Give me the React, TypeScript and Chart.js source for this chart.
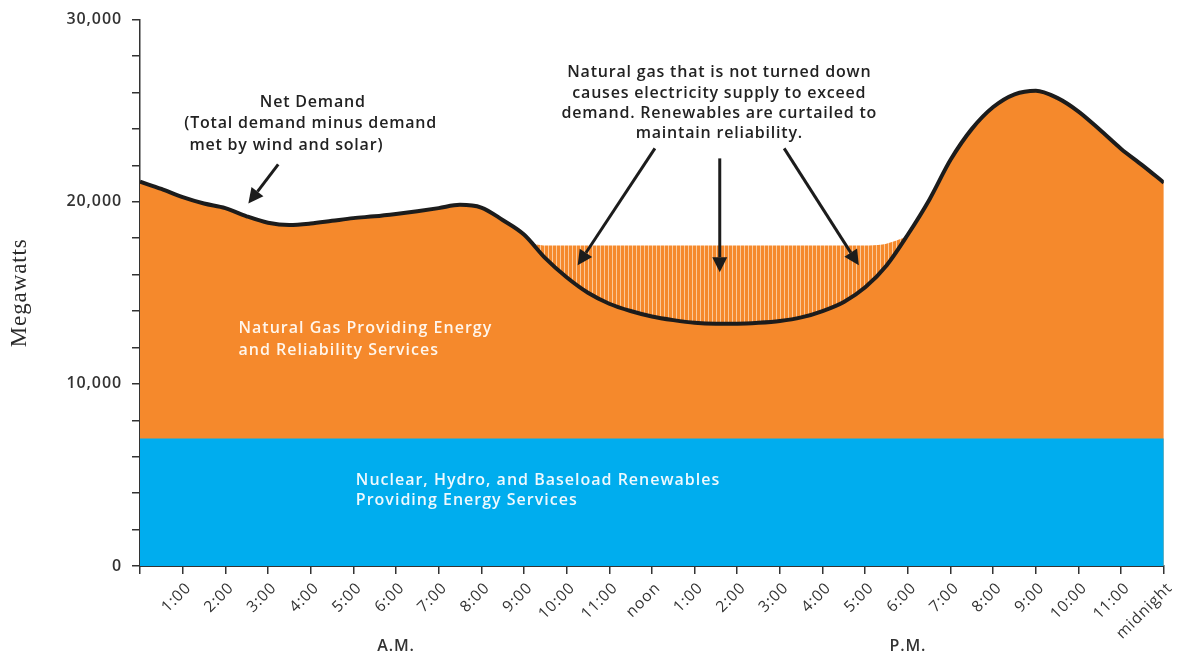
import React, { useEffect, useRef } from 'react';
import { Chart, registerables } from 'chart.js';

Chart.register(...registerables);

// ---------- Data ----------
const demandHours = [
  0, 0.5, 1, 1.5, 2, 2.5, 3, 3.5, 4, 4.5, 5, 5.5, 6, 6.5, 7, 7.5, 8, 8.5, 9, 9.5,
  10, 10.5, 11, 11.5, 12, 12.5, 13, 13.5, 14, 14.5, 15, 15.5, 16, 16.5, 17, 17.5,
  18, 18.5, 19, 19.5, 20, 20.5, 21, 21.5, 22, 22.5, 23, 23.5, 24,
];
const netDemand = [
  21100, 20700, 20250, 19900, 19650, 19200, 18850, 18720, 18800, 18950, 19100, 19200,
  19330, 19480, 19650, 19830, 19680, 19000, 18200, 16900, 15850, 15000, 14400, 14000,
  13700, 13500, 13350, 13300, 13300, 13350, 13450, 13650, 14000, 14500, 15300, 16500,
  18200, 20100, 22300, 24000, 25200, 25900, 26100, 25700, 24950, 23950, 22900, 22000,
  21050,
];
const curtailHours = [9.2, 9.45, 10, 11, 12, 13, 14, 15, 16, 17, 17.4, 17.7, 17.95];
const curtailTop = [17700, 17600, 17600, 17600, 17600, 17600, 17600, 17600, 17600, 17600, 17650, 17850, 18050];
const baseloadHours = [0, 24];
const baseload = [7000, 7000];

const xTickLabels = [
  '', '1:00', '2:00', '3:00', '4:00', '5:00', '6:00', '7:00', '8:00', '9:00', '10:00', '11:00',
  'noon', '1:00', '2:00', '3:00', '4:00', '5:00', '6:00', '7:00', '8:00', '9:00', '10:00', '11:00',
  'midnight',
];
const yLabelledTicks = [0, 10000, 20000, 30000];

const ORANGE = '#F5892C';
const BLUE = '#00ADEE';
const STRIPE = '#FBC99A';
const INK = '#1c1c1c';
const TEXT = '#333333';
const FONT = "'Open Sans', 'Noto Sans', sans-serif";

type Line = { text: string; x: number; y: number };
const netDemandNote: Line[] = [
  { text: 'Net Demand', x: 4.05, y: 25450 },
  { text: '(Total demand minus demand', x: 4.0, y: 24300 },
  { text: 'met by wind and solar)', x: 3.43, y: 23090 },
];
const curtailNote: Line[] = [
  { text: 'Natural gas that is not turned down', x: 13.58, y: 27090 },
  { text: 'causes electricity supply to exceed', x: 13.58, y: 25940 },
  { text: 'demand. Renewables are curtailed to', x: 13.58, y: 24850 },
  { text: 'maintain reliability.', x: 13.58, y: 23750 },
];
const gasNote: Line[] = [
  { text: 'Natural Gas Providing Energy', x: 2.31, y: 13050 },
  { text: 'and Reliability Services', x: 2.31, y: 11850 },
];
const baseNote: Line[] = [
  { text: 'Nuclear, Hydro, and Baseload Renewables', x: 5.06, y: 4720 },
  { text: 'Providing Energy Services', x: 5.06, y: 3620 },
];
const periodNote: Line[] = [
  { text: 'A.M.', x: 6, y: -4390 },
  { text: 'P.M.', x: 18, y: -4390 },
];
const arrows = [
  { x0: 3.24, y0: 22050, x1: 2.54, y1: 19900 },
  { x0: 12.07, y0: 22930, x1: 10.26, y1: 16510 },
  { x0: 13.59, y0: 22380, x1: 13.59, y1: 16130 },
  { x0: 15.1, y0: 22930, x1: 16.85, y1: 16510 },
];

function toPoints(xs: number[], ys: number[]) {
  return xs.map((x, i) => ({ x, y: ys[i] }));
}

function drawArrow(ctx: CanvasRenderingContext2D, x0: number, y0: number, x1: number, y1: number) {
  const ang = Math.atan2(y1 - y0, x1 - x0);
  const headLen = 15;
  const headHalf = 7.5;
  const bx = x1 - headLen * Math.cos(ang);
  const by = y1 - headLen * Math.sin(ang);
  ctx.strokeStyle = INK;
  ctx.fillStyle = INK;
  ctx.lineWidth = 3;
  ctx.lineCap = 'butt';
  ctx.beginPath();
  ctx.moveTo(x0, y0);
  ctx.lineTo(bx, by);
  ctx.stroke();
  ctx.beginPath();
  ctx.moveTo(x1, y1);
  ctx.lineTo(bx + headHalf * Math.sin(ang), by - headHalf * Math.cos(ang));
  ctx.lineTo(bx - headHalf * Math.sin(ang), by + headHalf * Math.cos(ang));
  ctx.closePath();
  ctx.fill();
}

const spacingPlugin = {
  id: 'letterSpacing',
  beforeInit(chart: any) { (chart.ctx as any).letterSpacing = '0.9px'; },
  beforeLayout(chart: any) { (chart.ctx as any).letterSpacing = '0.9px'; },
  beforeDraw(chart: any) { (chart.ctx as any).letterSpacing = '0.9px'; },
};

const annotationPlugin = {
  id: 'annotations',
  afterDatasetsDraw(chart: any) {
    const { ctx, scales } = chart;
    const xs = scales.x;
    const ys = scales.y;
    ctx.save();
    for (const a of arrows) {
      drawArrow(ctx, xs.getPixelForValue(a.x0), ys.getPixelForValue(a.y0), xs.getPixelForValue(a.x1), ys.getPixelForValue(a.y1));
    }
    const put = (lines: Line[], color: string, align: CanvasTextAlign) => {
      ctx.fillStyle = color;
      ctx.textAlign = align;
      ctx.textBaseline = 'middle';
      for (const l of lines) ctx.fillText(l.text, xs.getPixelForValue(l.x), ys.getPixelForValue(l.y));
    };
    (ctx as any).letterSpacing = '0.8px';
    ctx.font = `600 16px ${FONT}`;
    put(netDemandNote, '#222222', 'center');
    put(curtailNote, '#222222', 'center');
    (ctx as any).letterSpacing = '1px';
    put(gasNote, '#FFF6EC', 'left');
    put(baseNote, '#EEF9FE', 'left');
    (ctx as any).letterSpacing = '0.8px';
    put(periodNote, TEXT, 'center');
    ctx.restore();
  },
};

export default function App() {
  const ref = useRef<HTMLCanvasElement | null>(null);

  useEffect(() => {
    const canvas = ref.current;
    if (!canvas) return;
    const ctx = canvas.getContext('2d')!;

    const pc = document.createElement('canvas');
    pc.width = 4;
    pc.height = 4;
    const pctx = pc.getContext('2d')!;
    pctx.fillStyle = ORANGE;
    pctx.fillRect(0, 0, 4, 4);
    pctx.fillStyle = STRIPE;
    pctx.fillRect(0, 0, 1, 4);
    const pattern = ctx.createPattern(pc, 'repeat')!;

    const chart = new Chart(ctx, {
      type: 'line',
      data: {
        datasets: [
          {
            label: 'Net demand',
            data: toPoints(demandHours, netDemand),
            borderColor: INK,
            borderWidth: 4,
            backgroundColor: ORANGE,
            fill: 'origin',
            pointRadius: 0,
            cubicInterpolationMode: 'monotone',
            order: 3,
          },
          {
            label: 'Curtailed renewables',
            data: toPoints(curtailHours, curtailTop),
            borderWidth: 0,
            borderColor: 'rgba(0,0,0,0)',
            backgroundColor: pattern as any,
            fill: 0,
            pointRadius: 0,
            cubicInterpolationMode: 'monotone',
            order: 2,
          },
          {
            label: 'Baseload',
            data: toPoints(baseloadHours, baseload),
            borderWidth: 0,
            borderColor: 'rgba(0,0,0,0)',
            backgroundColor: BLUE,
            fill: 'origin',
            pointRadius: 0,
            order: 1,
          },
        ],
      },
      options: {
        responsive: false,
        animation: false,
        devicePixelRatio: 1,
        layout: { padding: { left: 0, right: 12, top: 19, bottom: 0 } },
        plugins: {
          legend: { display: false },
          tooltip: { enabled: false },
          filler: { drawTime: 'beforeDatasetsDraw' },
        },
        scales: {
          x: {
            type: 'linear',
            min: 0,
            max: 24,
            afterFit: (s: any) => { s.height = 90; },
            border: { display: true, color: TEXT, width: 2 },
            grid: { drawOnChartArea: false, drawTicks: true, tickLength: 8, color: TEXT, lineWidth: 1.5 },
            ticks: {
              stepSize: 1,
              autoSkip: false,
              minRotation: 45,
              maxRotation: 45,
              padding: 5,
              labelOffset: 6,
              color: TEXT,
              font: { family: FONT, size: 15.5 },
              callback: (v: any) => xTickLabels[Math.round(Number(v))] ?? '',
            },
          },
          y: {
            min: 0,
            max: 30000,
            afterFit: (s: any) => { s.width = 140; },
            border: { display: true, color: TEXT, width: 1.5 },
            grid: { drawOnChartArea: false, drawTicks: true, tickLength: 8, color: TEXT, lineWidth: 1.5 },
            title: {
              display: true,
              text: 'Megawatts',
              color: '#2a2a2a',
              font: { family: "'Liberation Serif', 'DejaVu Serif', serif", size: 23 },
              padding: { top: 6, bottom: 0 },
            },
            ticks: {
              stepSize: 2000,
              padding: 10,
              color: TEXT,
              font: { family: FONT, size: 16, weight: '600' },
              callback: (v: any) =>
                yLabelledTicks.includes(Number(v)) ? Number(v).toLocaleString('en-US') : '',
            },
          },
        },
      },
      plugins: [spacingPlugin, annotationPlugin],
    });

    return () => chart.destroy();
  }, []);

  return (
    <div style={{ position: 'fixed', left: 0, top: 0, width: 1182, height: 656, background: '#fff' }}>
      <canvas ref={ref} width={1182} height={656} style={{ display: 'block' }} />
    </div>
  );
}
